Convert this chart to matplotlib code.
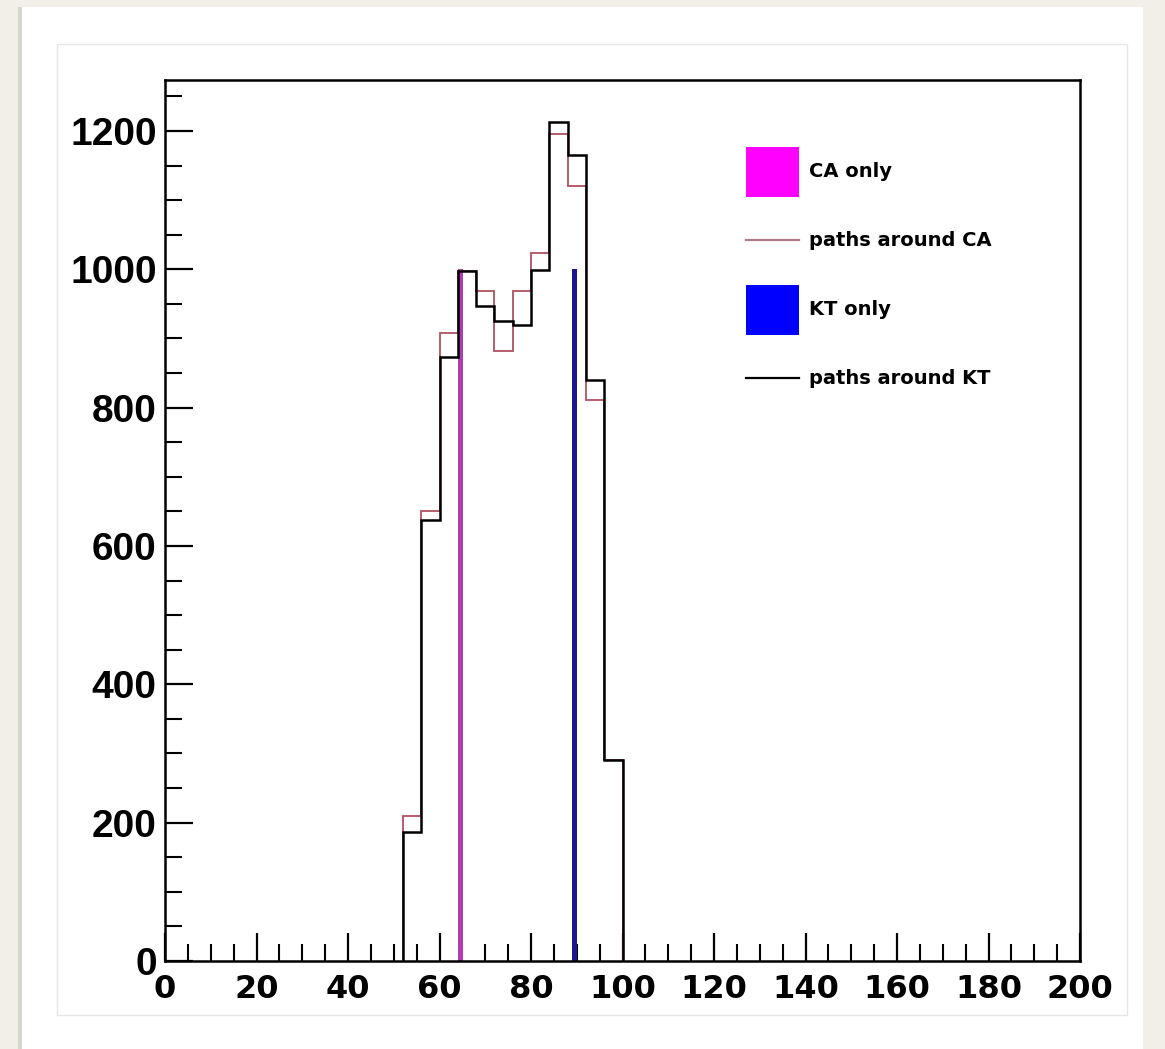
import numpy as np
import matplotlib
matplotlib.use("Agg")
import matplotlib.pyplot as plt
from matplotlib.patches import Patch, Rectangle
from matplotlib.lines import Line2D
from matplotlib.ticker import MultipleLocator
from matplotlib.legend_handler import HandlerLine2D

# ---- data ----
bin_edges = [52, 56, 60, 64, 68, 72, 76, 80, 84, 88, 92, 96, 100]
paths_ca = [210, 650, 908, 997, 969, 882, 969, 1023, 1195, 1121, 811, 290]
paths_kt = [187, 638, 873, 997, 947, 925, 920, 999, 1213, 1165, 840, 290]
ca_only_x = [64.5]
ca_only_y = [1000]
kt_only_x = [89.5]
kt_only_y = [1000]
x_ticks = [0, 20, 40, 60, 80, 100, 120, 140, 160, 180, 200]
y_ticks = [0, 200, 400, 600, 800, 1000, 1200]
labels = ["CA only", "paths around CA", "KT only", "paths around KT"]

W, H = 1165, 1049
fig = plt.figure(figsize=(W / 100, H / 100), dpi=100, facecolor="#f2efe8")

# white panel and faint inner frame
fig.patches.append(Rectangle((22 / W, 0), (1143 - 22) / W, 1 - 7 / H,
                             transform=fig.transFigure, facecolor="white",
                             edgecolor="none", zorder=-3))
fig.patches.append(Rectangle((18 / W, 0), 4 / W, 1 - 7 / H,
                             transform=fig.transFigure, facecolor="#d8d5cf",
                             edgecolor="none", zorder=-3))
fig.patches.append(Rectangle((57 / W, 1 - 1015 / H), (1127 - 57) / W, (1015 - 44) / H,
                             transform=fig.transFigure, facecolor="white",
                             edgecolor="#e6e6e6", linewidth=1.0, zorder=-2))

ax = fig.add_axes([165 / W, 1 - 961 / H, (1080 - 165) / W, (961 - 80) / H])
ax.set_zorder(5)
ax.set_facecolor("white")

ax.bar(ca_only_x, ca_only_y, width=1.1, color="#b03cb4", edgecolor="none", zorder=2)
ax.bar(kt_only_x, kt_only_y, width=1.1, color="#1c168c", edgecolor="none", zorder=2)
ax.stairs(paths_ca, bin_edges, color="#b05060", linewidth=1.3, baseline=0, zorder=3)
ax.stairs(paths_kt, bin_edges, color="black", linewidth=1.8, baseline=0, zorder=4)

ax.set_xlim(0, 200)
ax.set_ylim(0, 1.05 * max(max(paths_ca), max(paths_kt)))
ax.set_xticks(x_ticks)
ax.set_yticks(y_ticks)
ax.xaxis.set_minor_locator(MultipleLocator(5))
ax.yaxis.set_minor_locator(MultipleLocator(50))
ax.tick_params(axis="both", which="major", direction="in", length=20, width=1.6,
               top=False, right=False)
ax.tick_params(axis="both", which="minor", direction="in", length=12, width=1.5,
               top=False, right=False)
ax.tick_params(axis="x", which="major", pad=9)
ax.tick_params(axis="y", which="major", pad=6)
for lab in ax.get_xticklabels():
    lab.set_fontfamily("DejaVu Sans")
    lab.set_fontweight("bold")
    lab.set_fontsize(23)
for lab in ax.get_yticklabels():
    lab.set_fontfamily("Liberation Sans")
    lab.set_fontweight("bold")
    lab.set_fontsize(28)
for sp in ax.spines.values():
    sp.set_linewidth(1.8)


class ShiftedLine(HandlerLine2D):
    def create_artists(self, legend, orig_handle, xdescent, ydescent, width,
                       height, fontsize, trans):
        arts = super().create_artists(legend, orig_handle, xdescent, ydescent,
                                      width, height, fontsize, trans)
        for a in arts:
            a.set_ydata(np.asarray(a.get_ydata(), dtype=float) - 6.5)
        return arts


handles = [Patch(facecolor="#ff00ff", edgecolor="none"),
           Line2D([], [], color="#b07a86", linewidth=1.6),
           Patch(facecolor="#0000ff", edgecolor="none"),
           Line2D([], [], color="black", linewidth=1.6)]
fs = 14
fs_px = fs * 100 / 72
hh = (50 / fs_px - 0.245) / 0.65
leg = ax.legend(handles, labels, loc="upper left",
                bbox_to_anchor=((746 - 165) / 915, (961 - 147) / 881),
                frameon=False, borderpad=0, borderaxespad=0,
                handlelength=53 / fs_px, handleheight=hh,
                labelspacing=19 / fs_px, handletextpad=10 / fs_px,
                handler_map={Line2D: ShiftedLine()},
                prop={"family": "DejaVu Sans", "weight": "bold", "size": fs})

fig.savefig("out.png", dpi=100, facecolor=fig.get_facecolor())
